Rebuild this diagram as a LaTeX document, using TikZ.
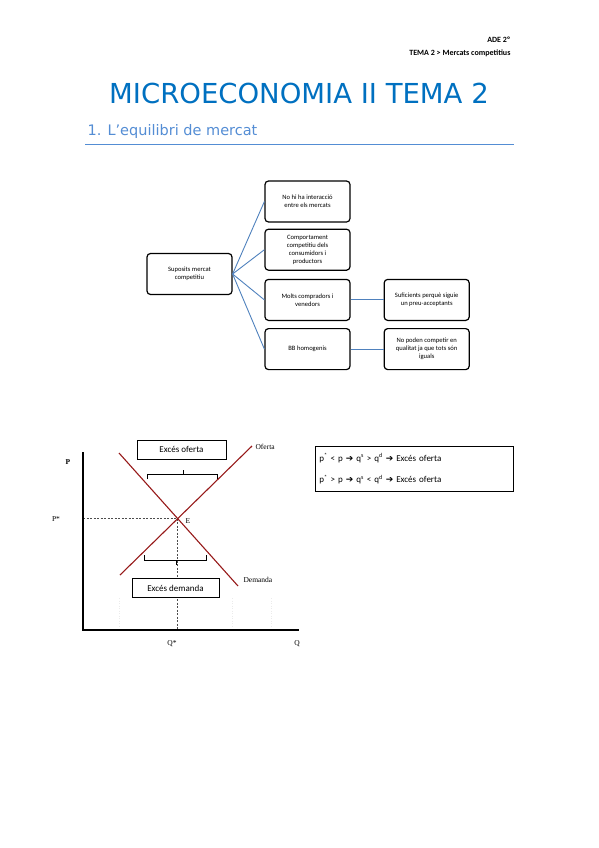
\documentclass[tikz,border=0pt]{standalone}
\usepackage{fontspec}
\setmainfont{Carlito}
\newfontfamily\titlefont{DejaVu Sans}
\newfontfamily\graphfont{Liberation Serif}
\newfontfamily\symfont{DejaVu Sans}
\usetikzlibrary{positioning}
\definecolor{titleblue}{RGB}{0,112,192}
\definecolor{secblue}{RGB}{84,141,212}
\definecolor{linkblue}{RGB}{79,129,189}
\definecolor{curvered}{RGB}{150,25,25}
\newcommand{\arr}{{\symfont\char"2794}}
\tikzset{
  treebox/.style={draw, line width=1.2pt, rounded corners=3.5pt, minimum width=85pt, minimum height=41pt,
    align=center, inner sep=1pt, font=\fontsize{6.6}{8}\selectfont},
  treelink/.style={linkblue, line width=0.9pt},
  tagbox/.style={draw, line width=0.7pt, minimum height=19pt, inner sep=0pt, fill=white,
    font=\fontsize{9}{10}\selectfont},
  curve/.style={curvered, line width=1.1pt},
  guide/.style={black!70, line width=0.4pt, dash pattern=on 2pt off 1.5pt},
  faint/.style={black!8, line width=0.4pt, dash pattern=on 1pt off 1.5pt},
  glabel/.style={font=\graphfont\fontsize{7.5}{8}\selectfont},
}
\begin{document}
\begin{tikzpicture}[x=1pt,y=-1pt]
        \useasboundingbox (0,0) rectangle (599,848);

        % header
        \node[anchor=east, font=\bfseries\fontsize{8}{9}\selectfont] (course) at (514,40) {ADE 2º};
        \node[anchor=east, font=\bfseries\fontsize{8}{9}\selectfont] (topic) at (514,53) {TEMA 2 > Mercats competitius};
        \node[font=\titlefont\fontsize{27.5}{30}\selectfont, text=titleblue] (title) at (299,93) {MICROECONOMIA II TEMA 2};
        \node[anchor=west, font=\titlefont\fontsize{14.5}{16}\selectfont, text=secblue] (section) at (84,131) {1. L’equilibri de mercat};
        \coordinate (ruleL) at (85,144);
        \coordinate (ruleR) at (514,144);
        \draw[secblue, line width=0.9pt] (ruleL) -- (ruleR);

        % tree of assumptions
        \node[treebox] (root) at (189.5,274) {Suposits mercat\\competitiu};
        \node[treebox] (noint) at (307.5,201.5) {No hi ha interacció\\entre els mercats};
        \node[treebox, below=6pt of noint] (comp) {Comportament\\competitiu dels\\consumidors i\\productors};
        \node[treebox, below=8pt of comp] (molts) {Molts compradors i\\venedors};
        \node[treebox, below=7pt of molts] (homog) {BB homogenis};
        \node[treebox, right=33pt of molts] (preu) {Suficients perquè siguie\\un preu-acceptants};
        \node[treebox, right=33pt of homog] (iguals) {No poden competir en\\qualitat ja que tots són\\iguals};

        \draw[treelink] (root.east) -- (noint.west);
        \draw[treelink] (root.east) -- (comp.west);
        \draw[treelink] (root.east) -- (molts.west);
        \draw[treelink] (root.east) -- (homog.west);
        \draw[treelink] (molts.east) -- (preu.west);
        \draw[treelink] (homog.east) -- (iguals.west);

        % supply and demand graph
        \coordinate (O) at (83,630);
        \coordinate (Ptop) at (83,452);
        \coordinate (Qend) at (299,630);
        \coordinate (E) at (177,518);
        \coordinate (Pstar) at (83,518);
        \coordinate (Qstar) at (177,630);

        \draw[faint] (119,598) -- (119,626);
        \draw[faint] (232,598) -- (232,626);
        \draw[faint] (271,598) -- (271,626);

        \draw[guide] (Pstar) -- (E) -- (Qstar);

        \coordinate (S0) at (120,575);
        \coordinate (S1) at (252,446);
        \coordinate (D0) at (119,453);
        \coordinate (D1) at (238,586);
        \draw[curve] (S0) -- (S1);
        \draw[curve] (D0) -- (D1);

        \draw[line width=1.6pt] (Ptop) -- (O) -- (Qend);

        \node[glabel, anchor=west] (oferta) at (252,447) {Oferta};
        \node[glabel, anchor=west] (demanda) at (240,580) {Demanda};
        \node[glabel] (Elab) at (188,521) {E};
        \node[glabel, font=\graphfont\bfseries\fontsize{7.5}{8}\selectfont] (Plab) at (68,462) {P};
        \node[glabel] (Pslab) at (56,519) {P*};
        \node[glabel] (Qslab) at (172,644) {Q*};
        \node[glabel] (Qlab) at (297,644) {Q};

        % brackets
        \draw[line width=0.9pt] (147,479) -- (147,474) -- (217,474) -- (217,479);
        \draw[line width=0.9pt] (183,474) -- (183,470);
        \draw[line width=0.9pt] (144,555) -- (144,560) -- (206,560) -- (206,555);
        \draw[line width=0.9pt] (176,560) -- (176,565);

        \node[tagbox, minimum width=89pt] (exof) at (181.5,449.5) {Excés oferta};
        \node[tagbox, minimum width=87pt] (exdem) at (175.5,588) {Excés demanda};

        % summary box
        \node[draw, line width=0.8pt, anchor=north west, minimum width=198pt, minimum height=45pt,
              align=left, text width=190pt, inner sep=4pt, font=\fontsize{9}{21.5}\selectfont] (summary) at (315,446)
          {p\textsuperscript{*} < p \arr{} q\textsuperscript{s} > q\textsuperscript{d} \arr{} Excés oferta\\
           p\textsuperscript{*} > p \arr{} q\textsuperscript{s} < q\textsuperscript{d} \arr{} Excés oferta};

\end{tikzpicture}
\end{document}
